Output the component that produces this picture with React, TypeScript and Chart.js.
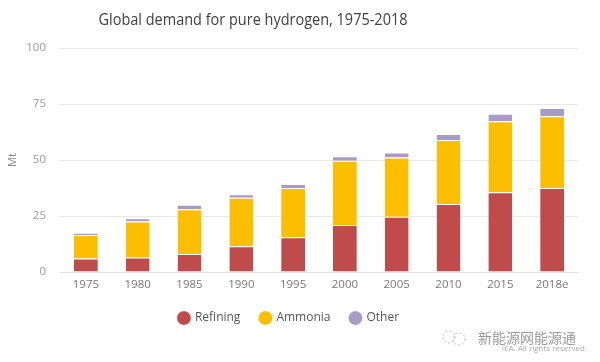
import React, { useEffect, useRef } from "react";
import { Chart, registerables } from "chart.js";

Chart.register(...registerables);

const TITLE = "Global demand for pure hydrogen, 1975-2018";
const categories = ["1975", "1980", "1985", "1990", "1995", "2000", "2005", "2010", "2015", "2018e"];
const refining = [6, 6.5, 8, 11.5, 15.5, 21, 24.7, 30.4, 35.6, 37.5];
const ammonia = [10.5, 16, 20, 21.7, 22, 28.7, 26.4, 28.5, 31.7, 32];
const other = [1, 1.5, 2, 1.5, 1.8, 2, 2.3, 2.7, 3.4, 3.7];
const yTicks = [0, 25, 50, 75, 100];
const seriesNames = ["Refining", "Ammonia", "Other"];
const seriesColors = ["#c04b4b", "#fbbf00", "#a99bc6"];
const yTitle = "Mt";
const watermark = "新能源网能源通";
const credits = "IEA. All rights reserved.";

const FONT = "'Open Sans', 'Noto Sans', sans-serif";

const titlePlugin = {
  id: "customTitle",
  afterDraw(chart: any) {
    const ctx = chart.ctx;
    ctx.save();
    ctx.font = `16.5px ${FONT}`;
    ctx.fillStyle = "#404040";
    ctx.textAlign = "center";
    ctx.textBaseline = "alphabetic";
    ctx.fillText(TITLE, 253, 25, 309);
    ctx.restore();
  },
};

export default function App() {
  const ref = useRef<HTMLCanvasElement | null>(null);

  useEffect(() => {
    if (!ref.current) return;
    const datasets = [refining, ammonia, other].map((d, i) => ({
      label: seriesNames[i],
      data: d,
      backgroundColor: seriesColors[i],
      borderColor: "#ffffff",
      borderWidth: { top: 1, left: 0, right: 0, bottom: 0 },
      borderSkipped: false as any,
      barPercentage: 0.46,
      categoryPercentage: 1,
    }));
    const chart = new Chart(ref.current, {
      type: "bar",
      data: { labels: categories, datasets },
      plugins: [titlePlugin],
      options: {
        animation: false,
        responsive: true,
        maintainAspectRatio: false,
        layout: { padding: { top: 48, right: 22, left: 0, bottom: 28 } },
        plugins: {
          title: { display: false },
          tooltip: { enabled: false },
          legend: {
            position: "bottom",
            labels: {
              usePointStyle: true,
              pointStyle: "circle",
              boxWidth: 10,
              boxHeight: 10,
              padding: 20,
              color: "#555555",
              font: { family: FONT, size: 12 },
            },
          },
        },
        scales: {
          x: {
            stacked: true,
            afterFit(scale: any) {
              scale.height = 20;
            },
            grid: { display: false, drawTicks: false },
            border: { display: true, color: "#e2e2e2" },
            ticks: { color: "#777777", padding: 6, font: { family: FONT, size: 11.5 } },
          },
          y: {
            stacked: true,
            min: 0,
            max: 100,
            afterFit(scale: any) {
              scale.width = 60;
            },
            afterBuildTicks(scale: any) {
              scale.ticks = yTicks.map((v) => ({ value: v }));
            },
            grid: { color: "#e9e9e9", drawTicks: false },
            border: { display: false },
            ticks: { color: "#999999", padding: 14, font: { family: FONT, size: 11.5 } },
            title: {
              display: true,
              text: yTitle,
              color: "#888888",
              font: { family: FONT, size: 11 },
              padding: { top: 6, bottom: 0 },
            },
          },
        },
      },
    });
    return () => chart.destroy();
  }, []);

  return (
    <div
      style={{
        position: "fixed",
        left: 0,
        top: 0,
        width: 600,
        height: 362,
        background: "#ffffff",
        fontFamily: FONT,
      }}
    >
      <canvas ref={ref} />
      <svg
        width="28"
        height="20"
        style={{ position: "absolute", left: 440, top: 328 }}
        viewBox="0 0 28 20"
      >
        <circle cx="9" cy="9" r="6" fill="none" stroke="#b5b5b5" strokeWidth="1" strokeDasharray="2 2" />
        <circle cx="19" cy="11" r="6" fill="none" stroke="#b5b5b5" strokeWidth="1" strokeDasharray="2 2" />
      </svg>
      <div
        style={{
          position: "absolute",
          left: 478,
          top: 328,
          fontFamily: "'Noto Sans CJK SC', sans-serif",
          fontSize: 14,
          color: "#9a9a9a",
          lineHeight: "18px",
          whiteSpace: "nowrap",
        }}
      >
        {watermark}
      </div>
      <div
        style={{
          position: "absolute",
          right: 13,
          top: 343,
          fontSize: 8,
          color: "#aaaaaa",
          lineHeight: "10px",
          whiteSpace: "nowrap",
        }}
      >
        {credits}
      </div>
    </div>
  );
}
